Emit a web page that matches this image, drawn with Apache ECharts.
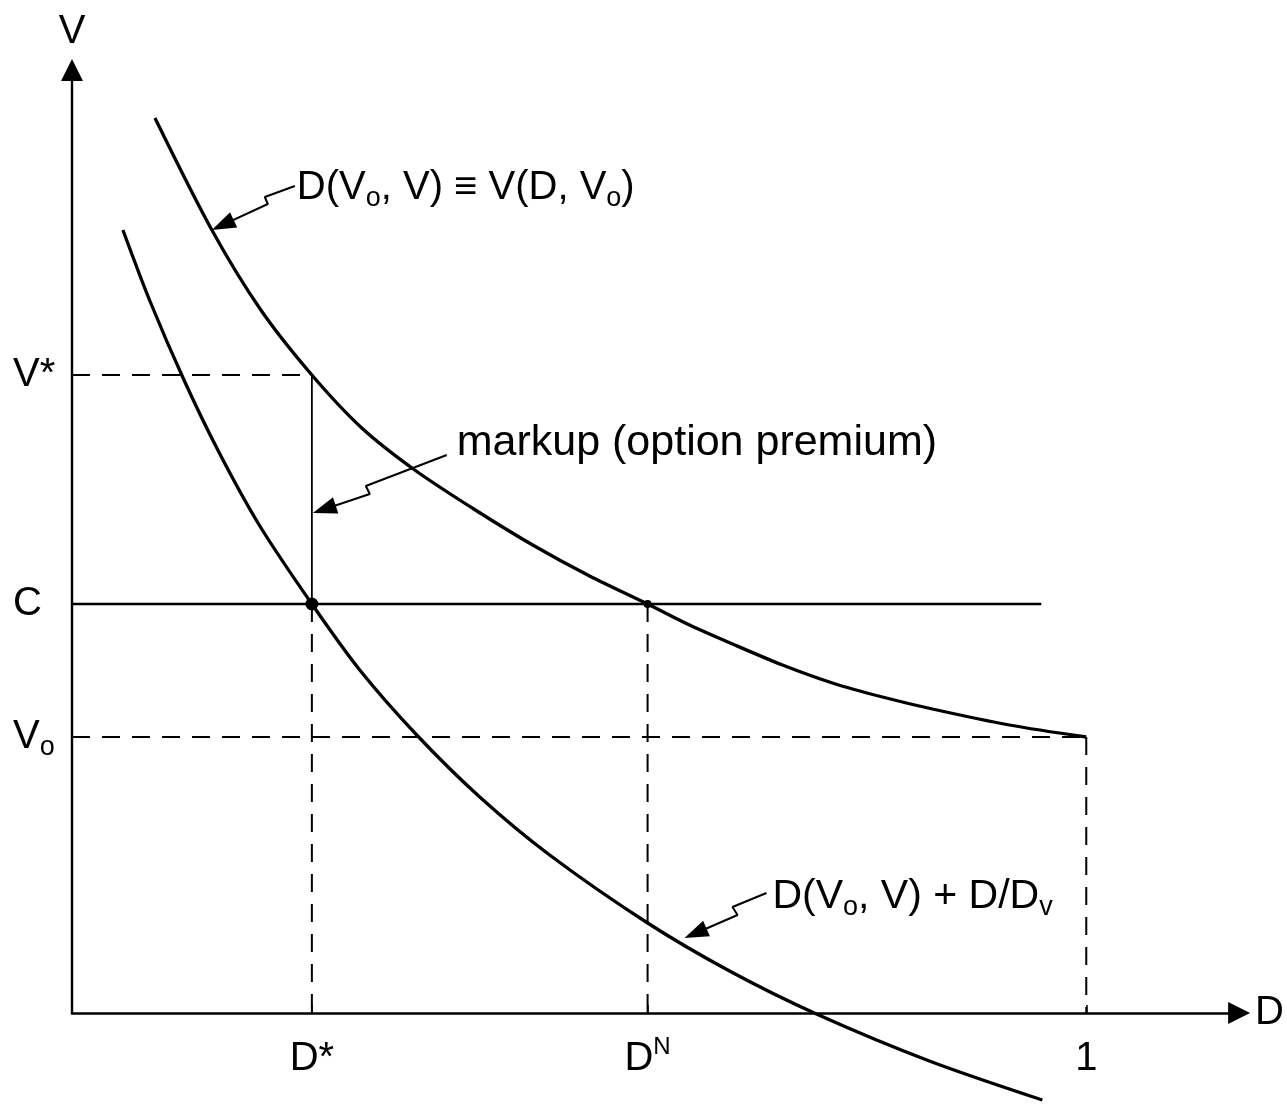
<!DOCTYPE html>
<html><head><meta charset="utf-8">
<script src="https://cdn.jsdelivr.net/npm/echarts@6/dist/echarts.min.js"></script>
<style>html,body{margin:0;padding:0;background:#fff}#c{width:1287px;height:1104px}</style>
</head><body><div id="c"></div>
<script>
// ---- values (D in units of the "1" tick, V in arbitrary units) ----
const D_STAR = 0.2365, D_N = 0.5675, D_ONE = 1;
const V_O = 2.76, C_LEVEL = 4.09, V_STAR = 6.38;
const C_LINE_END = 0.9557;
const xTickValues = [D_STAR, D_N, D_ONE];
const xTickLabels = ['{t|D*}', '{t|D}{sup|N}', '{t|1}'];
const yTickValues = [V_O, C_LEVEL, V_STAR];
const yTickLabels = ['{t|V}{sub|o}', '{t|C}', '{t|V*}'];
const upperCurve = [[0.0818,8.95],[0.1379,7.83],[0.1862,7.03],[0.2365,6.38],[0.2857,5.85],[0.3379,5.43],[0.3961,5.04],[0.4542,4.68],[0.5103,4.37],[0.5675,4.09],[0.6089,3.88],[0.6512,3.69],[0.7005,3.48],[0.7498,3.30],[0.7990,3.16],[0.8483,3.04],[0.9241,2.88],[1.0,2.76]];
const lowerCurve = [[0.0502,7.83],[0.0768,7.12],[0.1113,6.31],[0.1458,5.59],[0.1852,4.87],[0.2365,4.09],[0.2837,3.43],[0.3399,2.78],[0.4020,2.16],[0.4709,1.58],[0.5675,0.90],[0.6483,0.42],[0.7340,-0.01],[0.8453,-0.48],[0.9567,-0.87]];
// annotation pointers: start, zig, zag, tip
const pointer1 = [[0.2197,8.27],[0.1901,8.16],[0.1931,8.09],[0.1379,7.83]];
const pointer2 = [[0.3695,5.58],[0.2897,5.27],[0.2936,5.19],[0.2375,5.00]];
const pointer3 = [[0.6847,1.20],[0.6512,1.06],[0.6562,0.98],[0.6039,0.75]];
const annotationTexts = ['{a|D(V}{sub|o}{a|, V) ≡ V(D, V}{sub|o}{a|)}', '{m|markup (option premium)}', '{b|D(V}{sub|o}{b|, V) + D/D}{sub|v}'];
const annotationAnchors = [[0.2217,8.25],[0.3793,5.70],[0.6906,1.16]];

const FONT = "'Liberation Sans', Arial, 'DejaVu Sans', sans-serif";
const rich = {
  t: {fontSize: 40, lineHeight: 48, fontFamily: FONT, color: '#000'},
  a: {fontSize: 40, lineHeight: 48, fontFamily: FONT, color: '#000'},
  b: {fontSize: 41, lineHeight: 48, fontFamily: FONT, color: '#000'},
  m: {fontSize: 43, lineHeight: 48, fontFamily: FONT, color: '#000'},
  sub: {fontSize: 27, lineHeight: 30, verticalAlign: 'bottom', fontFamily: FONT, color: '#000'},
  sup: {fontSize: 24, lineHeight: 30, verticalAlign: 'top', fontFamily: FONT, color: '#000'}
};
const HEAD_LEN = 24, HEAD_W = 17;

function seg(id, data, width, dashed, z) {
  return {id: id, type: 'line', data: data, symbol: 'none', silent: true, clip: false, z: z || 2,
    lineStyle: {color: '#000', width: width, opacity: 1, type: dashed ? [18, 12] : 'solid', cap: 'butt'}};
}

const chart = echarts.init(document.getElementById('c'));
const pointers = [pointer1, pointer2, pointer3];
chart.setOption({
  animation: false,
  backgroundColor: '#fff',
  grid: {left: 72, right: 47, top: 70, bottom: 91},
  xAxis: {
    type: 'value', min: 0, max: 1.1507,
    name: '{t|D}', nameLocation: 'end', nameGap: 16,
    nameTextStyle: {rich: rich, align: 'left', verticalAlign: 'middle'},
    axisLine: {show: true, onZero: false, symbol: ['none', 'triangle'], symbolSize: [22, 22], lineStyle: {color: '#000', width: 2.6}},
    axisTick: {show: true, inside: true, length: 8, customValues: xTickValues, lineStyle: {color: '#000', width: 1.5}},
    axisLabel: {show: true, customValues: xTickValues, margin: 22, rich: rich,
      formatter: function (v) { const i = xTickValues.findIndex(t => Math.abs(t - v) < 1e-6); return i >= 0 ? xTickLabels[i] : ''; }},
    splitLine: {show: false}
  },
  yAxis: {
    type: 'value', min: 0, max: 9.43,
    name: '{t|V}', nameLocation: 'end', nameGap: 14,
    nameTextStyle: {rich: rich, align: 'center'},
    axisLine: {show: true, onZero: false, symbol: ['none', 'triangle'], symbolSize: [22, 22], lineStyle: {color: '#000', width: 2.4}},
    axisTick: {show: false},
    axisLabel: {show: true, customValues: yTickValues, margin: 59, align: 'left', rich: rich,
      formatter: function (v) { const i = yTickValues.findIndex(t => Math.abs(t - v) < 1e-6); return i >= 0 ? yTickLabels[i] : ''; }},
    splitLine: {show: false}
  },
  series: [
    Object.assign(seg('upper', upperCurve, 3.3, false, 5), {smooth: 0.3}),
    Object.assign(seg('lower', lowerCurve, 3.3, false, 5), {smooth: 0.3}),
    seg('cline', [[0, C_LEVEL], [C_LINE_END, C_LEVEL]], 2.5, false, 4),
    seg('vstar', [[0, V_STAR], [D_STAR, V_STAR]], 2, true),
    seg('markup', [[D_STAR, V_STAR], [D_STAR, C_LEVEL]], 1.8, false),
    seg('dstar', [[D_STAR, C_LEVEL], [D_STAR, 0]], 2, true),
    seg('dn', [[D_N, C_LEVEL], [D_N, 0]], 2, true),
    seg('vo', [[0, V_O], [D_ONE, V_O]], 2, true),
    seg('one', [[D_ONE, V_O], [D_ONE, 0]], 2, true),
    {id: 'dots', type: 'scatter', silent: true, z: 6, symbol: 'circle', itemStyle: {color: '#000', opacity: 1},
      data: [{value: [D_STAR, C_LEVEL], symbolSize: 13}, {value: [D_N, C_LEVEL], symbolSize: 8}]},
    seg('ptr0', pointer1.slice(0, 3), 2, false, 6),
    seg('ptr1', pointer2.slice(0, 3), 2, false, 6),
    seg('ptr2', pointer3.slice(0, 3), 2, false, 6),
    {id: 'heads', type: 'scatter', silent: true, z: 7, symbol: 'triangle', symbolSize: [HEAD_W, HEAD_LEN], itemStyle: {color: '#000', opacity: 1}, data: []},
    {id: 'texts', type: 'scatter', silent: true, z: 8, symbolSize: 0, itemStyle: {opacity: 1},
      label: {show: true, position: 'right', distance: 0, color: '#000', opacity: 1, rich: rich},
      data: annotationAnchors.map((p, i) => ({value: p, label: {formatter: annotationTexts[i]}}))}
  ]
});

// arrowheads: rotate along the last pointer segment, tip on the target
const upd = [], heads = [];
pointers.forEach((p, k) => {
  const B = chart.convertToPixel({gridIndex: 0}, p[2]);
  const T = chart.convertToPixel({gridIndex: 0}, p[3]);
  const dx = T[0] - B[0], dy = T[1] - B[1], L = Math.hypot(dx, dy);
  const ux = dx / L, uy = dy / L;
  const E = chart.convertFromPixel({gridIndex: 0}, [T[0] - ux * HEAD_LEN / 2, T[1] - uy * HEAD_LEN / 2]);
  const rot = Math.atan2(-uy, ux) * 180 / Math.PI - 90;
  upd.push({id: 'ptr' + k, data: [p[0], p[1], p[2], E]});
  heads.push({value: E, symbolRotate: rot});
});
upd.push({id: 'heads', data: heads});
chart.setOption({series: upd});
</script></body></html>
